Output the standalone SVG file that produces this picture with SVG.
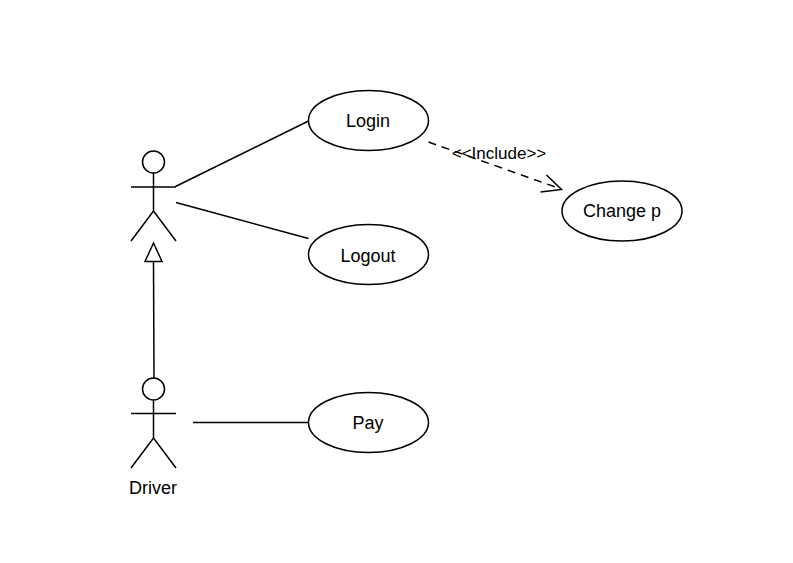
<svg xmlns="http://www.w3.org/2000/svg" width="793" height="563" viewBox="0 0 793 563">
<style>
.s{fill:none;stroke:#000;stroke-width:1.5}
.n{fill:#fff;stroke:#000;stroke-width:1.5}
text{font-family:"Liberation Sans",Arial,sans-serif;font-size:18px;fill:#000;text-anchor:middle}
</style>
<rect width="793" height="563" fill="#fff"/>
<g id="connectors">
<path class="s" d="M175.500 186.500L308.500 121"/>
<path class="s" d="M176 202.500L308.500 238.500"/>
<path class="s" d="M193 422.500H308.500"/>
<path class="s" d="M428.500 142L561 189" stroke-dasharray="8 6"/>
<path class="s" d="M546.500 175L561.500 189.500L540.500 192"/>
<path class="s" d="M153.500 262L154 378"/>
<path class="n" d="M153.500 243L145 261.500H162Z"/>
<text x="499" y="158.500" style="font-size:17px">&lt;&lt;Include&gt;&gt;</text>
</g>
<g id="actor1">
<circle class="n" cx="153.500" cy="162" r="11"/>
<path class="s" d="M153.500 173V211M131 187H176M131 241L153.500 211L176 241"/>
</g>
<g id="actor2">
<circle class="n" cx="153.500" cy="389" r="11"/>
<path class="s" d="M153.500 400V438M131 413.500H176M131 468L153.500 438L176 468"/>
<text x="153" y="494">Driver</text>
</g>
<g id="login"><ellipse class="n" cx="368.500" cy="120.500" rx="60" ry="30"/><text x="368" y="126.500">Login</text></g>
<g id="logout"><ellipse class="n" cx="368.500" cy="254.500" rx="60" ry="30"/><text x="368" y="261.500">Logout</text></g>
<g id="pay"><ellipse class="n" cx="368.500" cy="422.500" rx="60" ry="30"/><text x="368" y="428.500">Pay</text></g>
<g id="change"><ellipse class="n" cx="622" cy="211" rx="60" ry="30"/><text x="622" y="216.500">Change p</text></g>
</svg>
